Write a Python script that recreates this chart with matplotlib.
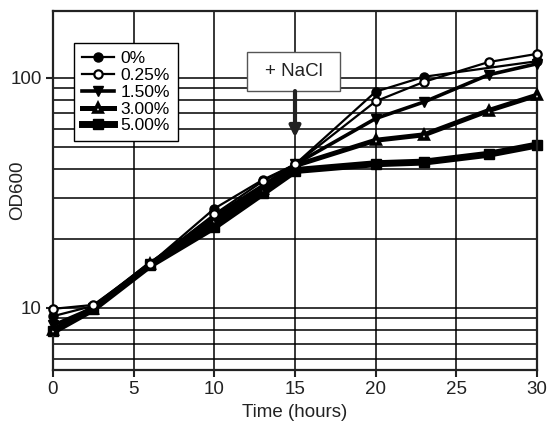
import matplotlib
matplotlib.use("Agg")
import matplotlib.pyplot as plt
from matplotlib.ticker import LogLocator, NullFormatter, FixedLocator
from matplotlib.patches import Rectangle

plt.rcParams['font.family'] = ['Liberation Sans', 'DejaVu Sans']

# time points (hours)
t_all = [0, 2.5, 6, 10, 13, 15, 20, 23, 27, 30]
t_0pct = [0, 2.5, 6, 10, 13, 15, 20, 23, 30]

# OD600 readings for each NaCl concentration
od_0 = [9.2, 10.2, 15.5, 27, 36, 42, 87, 101, 118]
od_025 = [9.9, 10.3, 15.5, 25.5, 35.5, 42, 79, 96, 117, 127]
od_150 = [8.4, 10.0, 15.5, 25, 34, 42, 66.5, 78.5, 103, 115]
od_300 = [8.0, 9.9, 15.5, 24, 33, 41.5, 53.5, 56.5, 72, 84]
od_500 = [7.9, 9.9, 15.3, 22.5, 31.5, 39.5, 42.3, 43, 46.5, 51]

labels = ['0%', '0.25%', '1.50%', '3.00%', '5.00%']
x_ticks = [0, 5, 10, 15, 20, 25, 30]
nacl_time = 15

fs = 13.5
tc = '#222222'

fig = plt.figure(figsize=(5.58, 4.30), dpi=100)
ax = fig.add_axes([53/558, 1-370/430, 484/558, 359/430])

k = 'black'
ax.plot(t_0pct, od_0, color=k, lw=1.6, marker='o', ms=6.5, mfc=k, mec=k,
        label=labels[0], clip_on=False, zorder=5)
ax.plot(t_all, od_025, color=k, lw=1.6, marker='o', ms=6, mfc='white', mec=k,
        mew=1.6, label=labels[1], clip_on=False, zorder=6)
ax.plot(t_all, od_150, color=k, lw=2.6, marker='v', ms=7, mfc=k, mec=k,
        label=labels[2], clip_on=False, zorder=4)
ax.plot(t_all, od_300, color=k, lw=3.6, marker='^', ms=6, mfc='white', mec=k,
        mew=2.6, label=labels[3], clip_on=False, zorder=3)
ax.plot(t_all, od_500, color=k, lw=5.0, marker='s', ms=6.5, mfc=k, mec=k,
        label=labels[4], clip_on=False, zorder=2)

ax.set_yscale('log')
ax.set_xlim(0, 30)
ax.set_ylim(5.37, 195)
ax.xaxis.set_major_locator(FixedLocator(x_ticks))
ax.yaxis.set_major_locator(FixedLocator([10, 100]))
ax.yaxis.set_major_formatter(plt.FuncFormatter(lambda v, p: '%d' % v))
ax.yaxis.set_minor_locator(LogLocator(base=10, subs=range(2, 10)))
ax.yaxis.set_minor_formatter(NullFormatter())

ax.grid(True, which='both', color=k, lw=1.1)
ax.set_axisbelow(True)
ax.tick_params(which='major', direction='out', length=5, width=1.5,
               labelsize=fs, colors=tc, pad=3)
ax.tick_params(which='minor', length=0)
for s in ax.spines.values():
    s.set_linewidth(1.6)
    s.set_color(tc)

ax.set_xlabel('Time (hours)', fontsize=fs, color=tc)
ax.set_ylabel('OD600', fontsize=fs, color=tc)
ax.xaxis.set_label_coords(0.5, -0.095)
ax.yaxis.set_label_coords(-0.055, 0.5)

leg = ax.legend(loc='upper left', bbox_to_anchor=(0.043, 0.911),
                borderaxespad=0, fontsize=12.5, frameon=True, fancybox=False,
                framealpha=1, edgecolor=k, handlelength=1.85,
                handletextpad=0.4, labelspacing=0.1, borderpad=0.45)
leg.get_frame().set_linewidth(1.0)
leg.set_zorder(10)

# + NaCl box and arrow
ax.add_patch(Rectangle((0.401, 0.777), 0.192, 0.109, transform=ax.transAxes,
                       facecolor='white', edgecolor='#555555', lw=1, zorder=10))
ax.text(0.497, 0.831, '+ NaCl', transform=ax.transAxes, ha='center',
        va='center', fontsize=fs, color=tc, zorder=11)
ax.annotate('', xy=(nacl_time, 55), xytext=(nacl_time, 0.777),
            textcoords=('data', 'axes fraction'),
            arrowprops=dict(arrowstyle='-|>', lw=3, color=tc,
                            mutation_scale=16, shrinkA=0, shrinkB=0),
            zorder=11)

fig.savefig('out.png', dpi=100)
